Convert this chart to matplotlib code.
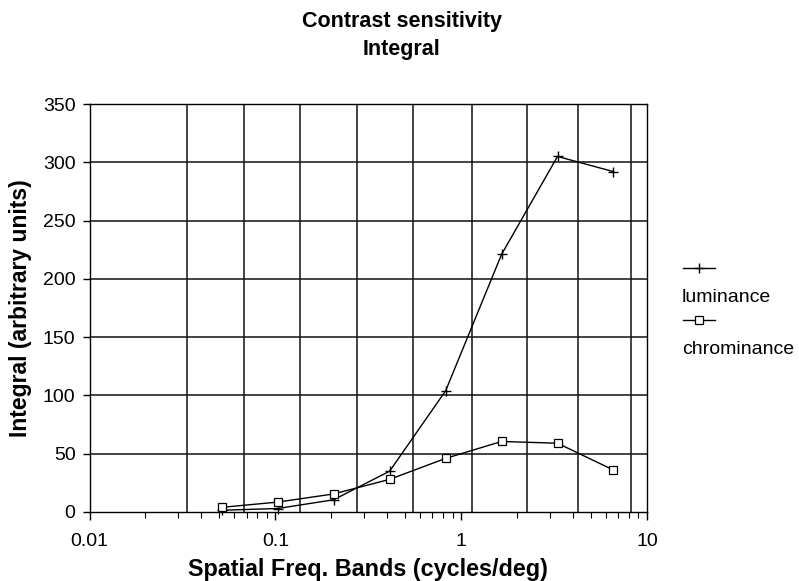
import matplotlib
matplotlib.use("Agg")
import matplotlib.pyplot as plt
from matplotlib.lines import Line2D
from matplotlib.ticker import FixedLocator, NullFormatter

plt.rcParams['font.family'] = ['Liberation Sans', 'DejaVu Sans']

# Band centre frequencies (cycles/deg) and the integrated sensitivity per band
freq = [0.0515, 0.103, 0.206, 0.412, 0.825, 1.65, 3.3, 6.6]
luminance = [1.5, 3, 10.5, 35, 104, 221, 305, 292]
chrominance = [4, 8.5, 15.5, 28, 46, 60.5, 59, 36]

# Edges of the spatial frequency bands, drawn as vertical grid lines
band_edges = [0.0336, 0.0679, 0.136, 0.2767, 0.55, 1.144, 2.25, 4.26, 8.24]

x_ticks = [0.01, 0.1, 1, 10]
x_tick_labels = ["0.01", "0.1", "1", "10"]
y_ticks = [0, 50, 100, 150, 200, 250, 300, 350]

fig = plt.figure(figsize=(7.99, 5.81), dpi=100)
ax = fig.add_axes([89.5 / 799, (581 - 512) / 581, (647 - 89.5) / 799, (512 - 104) / 581])

ax.set_xscale('log')
ax.set_xlim(0.01, 10)
ax.set_ylim(0, 350)

grid_kw = dict(color='#111111', lw=1.1, zorder=1)
for e in band_edges:
    ax.axvline(e, **grid_kw)
for y in y_ticks[1:]:
    ax.axhline(y, **grid_kw)

ax.plot(freq, luminance, color='black', lw=1.0, marker='+', ms=7, mew=1.0,
        zorder=3, clip_on=False)
ax.plot(freq, chrominance, color='black', lw=1.0, marker='s', ms=5.5,
        mfc='white', mec='black', mew=0.9, zorder=3, clip_on=False)

ax.xaxis.set_major_locator(FixedLocator(x_ticks))
ax.set_xticklabels(x_tick_labels)
minor = [m * d for d in (0.01, 0.1, 1) for m in range(2, 10)]
ax.xaxis.set_minor_locator(FixedLocator(minor))
ax.xaxis.set_minor_formatter(NullFormatter())
ax.set_yticks(y_ticks)

ax.tick_params(axis='x', which='major', direction='out', length=6, width=1.0,
               labelsize=14, pad=9, color='black')
ax.tick_params(axis='x', which='minor', direction='out', length=4, width=0.8,
               color='black')
ax.tick_params(axis='y', which='major', direction='out', length=5, width=1.0,
               labelsize=14, pad=5, color='black')

for s in ax.spines.values():
    s.set_color('black')
    s.set_linewidth(1.0)

ax.set_xlabel('Spatial Freq. Bands (cycles/deg)', fontsize=16.8,
              fontweight='bold', labelpad=6)
ax.set_ylabel('Integral (arbitrary units)', fontsize=16.5, fontweight='bold',
              labelpad=8)

fig.text(0.503, 1 - 21 / 581, 'Contrast sensitivity', ha='center', va='center',
         fontsize=15.5, fontweight='bold')
fig.text(0.503, 1 - 50 / 581, 'Integral', ha='center', va='center',
         fontsize=15.5, fontweight='bold')

# Legend: sample line above each label
def fx(px):
    return px / 799

def fy(py):
    return 1 - py / 581

entries = [('luminance', dict(marker='+', ms=7, mew=1.0), 267.5, 297),
           ('chrominance', dict(marker='s', ms=5.5, mfc='white', mec='black', mew=0.9), 320, 349)]
for label, mk, y_line, y_text in entries:
    fig.add_artist(Line2D([fx(683), fx(699), fx(715)], [fy(y_line)] * 3,
                          color='black', lw=1.0, markevery=[1],
                          transform=fig.transFigure, **mk))
    fig.text(fx(682), fy(y_text), label, ha='left', va='center', fontsize=14)

fig.savefig('out.png', dpi=100)
